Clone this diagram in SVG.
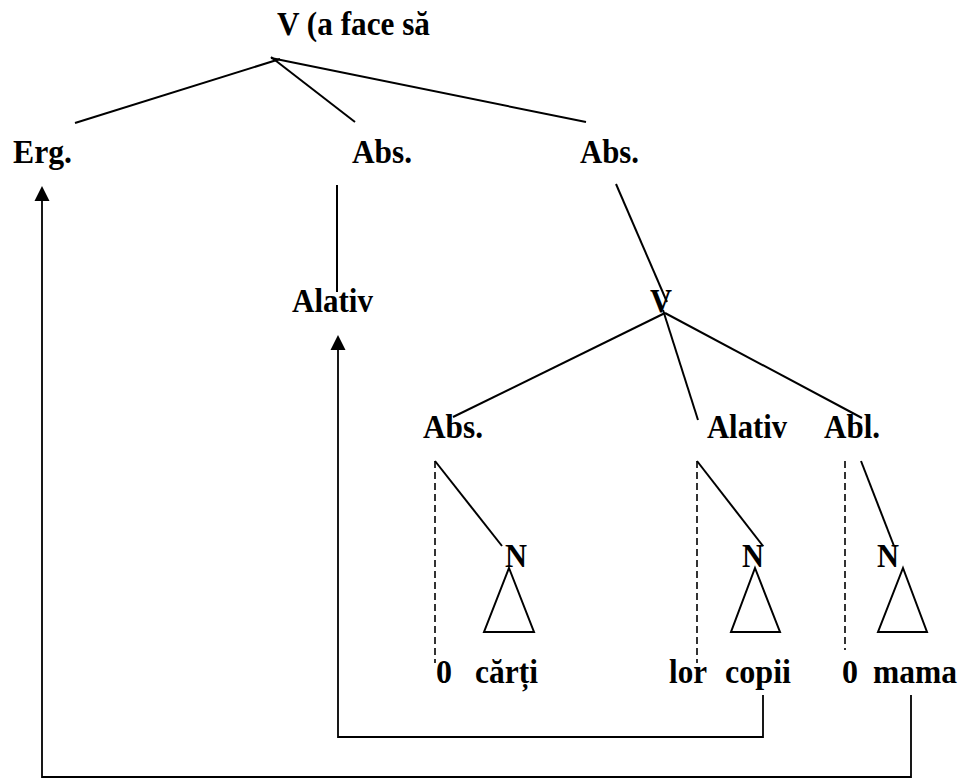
<svg xmlns="http://www.w3.org/2000/svg" width="964" height="782" viewBox="0 0 964 782">
<style>
text{font-family:"Liberation Serif","Times New Roman",serif;font-weight:bold;font-size:33px;fill:#000}
.l{stroke:#000;stroke-width:2;fill:none}
.d{stroke:#000;stroke-width:1.6;fill:none;stroke-dasharray:7 4}
.c{stroke:#000;stroke-width:1.8;fill:none}
.t{stroke:#000;stroke-width:2;fill:#fff;stroke-linejoin:miter}
.a{fill:#000}
</style>
<rect width="964" height="782" fill="#fff"/>
<g id="n-root"><text x="277" y="35" textLength="153" lengthAdjust="spacingAndGlyphs">V (a face să</text></g>
<g id="n-erg"><text x="13" y="163" textLength="59" lengthAdjust="spacingAndGlyphs">Erg.</text></g>
<g id="n-abs1"><text x="352" y="163" textLength="60" lengthAdjust="spacingAndGlyphs">Abs.</text></g>
<g id="n-abs2"><text x="580" y="163" textLength="59" lengthAdjust="spacingAndGlyphs">Abs.</text></g>
<g id="n-alativ1"><text x="292" y="312" textLength="81" lengthAdjust="spacingAndGlyphs">Alativ</text></g>
<g id="n-v2"><text x="650" y="312" textLength="22" lengthAdjust="spacingAndGlyphs">V</text></g>
<g id="n-abs3"><text x="423" y="438" textLength="60" lengthAdjust="spacingAndGlyphs">Abs.</text></g>
<g id="n-alativ2"><text x="707" y="438" textLength="80" lengthAdjust="spacingAndGlyphs">Alativ</text></g>
<g id="n-abl"><text x="824" y="438" textLength="56" lengthAdjust="spacingAndGlyphs">Abl.</text></g>
<g id="n-n1"><text x="505" y="567" textLength="22" lengthAdjust="spacingAndGlyphs">N</text><path class="t" d="M509,568 L534,632 L484,632 Z"/></g>
<g id="n-n2"><text x="742" y="567" textLength="22" lengthAdjust="spacingAndGlyphs">N</text><path class="t" d="M755,568 L780,632 L731,632 Z"/></g>
<g id="n-n3"><text x="877" y="567" textLength="22" lengthAdjust="spacingAndGlyphs">N</text><path class="t" d="M903,568 L927,632 L878,632 Z"/></g>
<g id="n-0a"><text x="436" y="683" textLength="16" lengthAdjust="spacingAndGlyphs">0</text></g>
<g id="n-carti"><text x="475" y="683" textLength="63" lengthAdjust="spacingAndGlyphs">cărți</text></g>
<g id="n-lor"><text x="669" y="683" textLength="38" lengthAdjust="spacingAndGlyphs">lor</text></g>
<g id="n-copii"><text x="725" y="683" textLength="66" lengthAdjust="spacingAndGlyphs">copii</text></g>
<g id="n-0b"><text x="842" y="683" textLength="16" lengthAdjust="spacingAndGlyphs">0</text></g>
<g id="n-mama"><text x="873" y="683" textLength="84" lengthAdjust="spacingAndGlyphs">mama</text></g>
<g id="connectors">
<line class="l" x1="75" y1="123" x2="280" y2="59"/>
<line class="l" x1="271" y1="57" x2="355" y2="122"/>
<line class="l" x1="271" y1="58" x2="586" y2="122"/>
<line class="l" x1="337" y1="185" x2="337" y2="292"/>
<line class="l" x1="616" y1="184" x2="667" y2="302"/>
<line class="l" x1="665" y1="313" x2="453" y2="417"/>
<line class="l" x1="663" y1="310" x2="698" y2="420"/>
<line class="l" x1="665" y1="313" x2="862" y2="418"/>
<line class="d" x1="435" y1="461" x2="435" y2="663"/>
<line class="l" x1="435" y1="461" x2="502" y2="546"/>
<line class="d" x1="697" y1="461" x2="697" y2="663"/>
<line class="l" x1="697" y1="461" x2="763" y2="546"/>
<line class="d" x1="845" y1="461" x2="845" y2="650"/>
<line class="l" x1="861" y1="461" x2="894" y2="546"/>
<polyline class="c" points="763,695 763,737 338,737 338,350"/>
<path class="a" d="M338,335 L330.5,350 L345.5,350 Z"/>
<polyline class="c" points="911,695 911,777 42,777 42,201"/>
<path class="a" d="M42,186 L34.5,201 L49.5,201 Z"/>
</g>
</svg>
